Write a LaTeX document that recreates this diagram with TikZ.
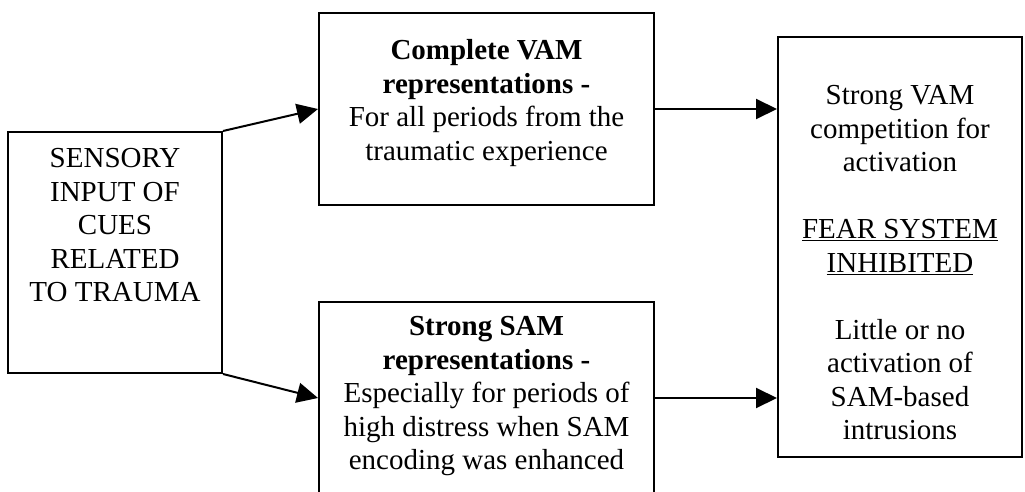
\documentclass[tikz,border=0pt]{standalone}
\usepackage{fontspec}
\setmainfont{Liberation Serif}
\usetikzlibrary{arrows.meta}
\begin{document}
\begin{tikzpicture}[x=1pt,y=-1pt,
  box/.style={draw, line width=2pt, inner sep=0pt},
  txt/.style={font=\fontsize{29}{33.5}\selectfont, align=center, inner sep=0pt, anchor=north, execute at begin node=\strut},
  arr/.style={line width=2pt, -{Triangle[length=21pt,width=20pt]}}]
\useasboundingbox (0,0) rectangle (1025,492);
\node[box, minimum width=214pt, minimum height=241pt] (L) at (115,252.5) {};
\node[box, minimum width=335pt, minimum height=192pt] (T) at (486.5,109) {};
\node[box, minimum width=335pt, minimum height=192pt] (B) at (486.5,398) {};
\node[box, minimum width=244pt, minimum height=420pt] (R) at (900,247) {};
\node[txt] (Lt) at (115,148.5) {SENSORY\\INPUT OF\\CUES\\RELATED\\TO TRAUMA};
\node[txt] (Tt) at (486.5,39.5) {\textbf{Complete VAM}\\\textbf{representations -}\\For all periods from the\\traumatic experience};
\node[txt] (Bt) at (486.5,316.5) {\textbf{Strong SAM}\\\textbf{representations -}\\Especially for periods of\\high distress when SAM\\encoding was enhanced};
\node[txt] (Rt) at (900,85.5) {Strong VAM\\competition for\\activation\\[33.5pt]\underline{FEAR SYSTEM}\\\underline{INHIBITED}\\[33.5pt]Little or no\\activation of\\SAM-based\\intrusions};
\draw[arr] (L.north east) -- (T.west);
\draw[arr] (L.south east) -- (B.west);
\draw[arr] (T.east) -- (T.east -| R.west);
\draw[arr] (B.east) -- (B.east -| R.west);
\end{tikzpicture}
\end{document}
